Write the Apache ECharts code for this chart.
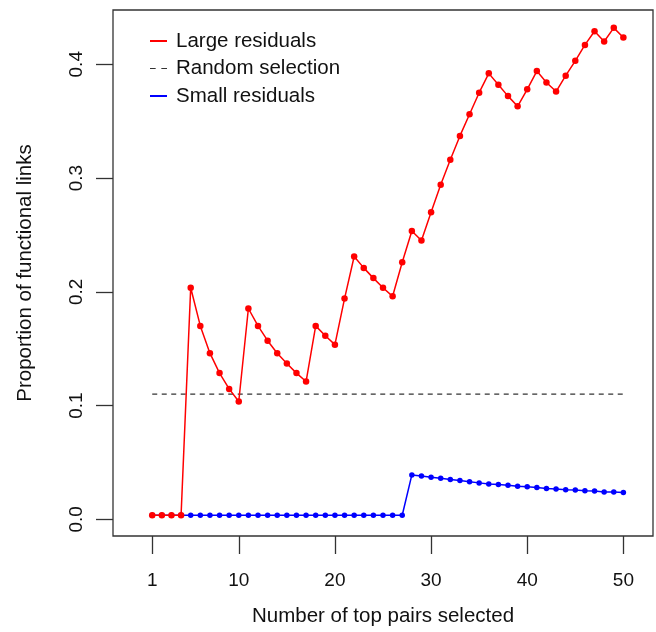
<!DOCTYPE html>
<html>
<head>
<meta charset="utf-8">
<script src="https://cdn.jsdelivr.net/npm/echarts@6/dist/echarts.min.js"></script>
<style>html,body{margin:0;padding:0;background:#fff;}#c{width:656px;height:632px;}</style>
</head>
<body>
<div id="c"></div>
<script>
var pairsSelected = [1,2,3,4,5,6,7,8,9,10,11,12,13,14,15,16,17,18,19,20,21,22,23,24,25,26,27,28,29,30,31,32,33,34,35,36,37,38,39,40,41,42,43,44,45,46,47,48,49,50];
var largeResiduals = [0.0035,0.0035,0.0035,0.0035,0.2035,0.170,0.146,0.1285,0.1146,0.1035,
  0.1853,0.170,0.157,0.146,0.137,0.1285,0.1211,0.170,0.1614,0.1535,
  0.194,0.231,0.221,0.212,0.2035,0.196,0.226,0.2535,0.245,0.270,
  0.294,0.316,0.337,0.356,0.375,0.392,0.382,0.372,0.363,0.378,
  0.394,0.384,0.376,0.390,0.403,0.417,0.429,0.420,0.432,0.4235];
var smallResiduals = [0.0035,0.0035,0.0035,0.0035,0.0035,0.0035,0.0035,0.0035,0.0035,0.0035,
  0.0035,0.0035,0.0035,0.0035,0.0035,0.0035,0.0035,0.0035,0.0035,0.0035,
  0.0035,0.0035,0.0035,0.0035,0.0035,0.0035,0.0035,0.039,0.038,0.037,
  0.036,0.035,0.034,0.033,0.032,0.031,0.0305,0.030,0.029,0.0285,
  0.028,0.027,0.0267,0.026,0.0257,0.025,0.0248,0.024,0.0239,0.0235];
var randomSelection = [0.110, 0.110];
var randomX = [1, 50];
var xTicks = [1,10,20,30,40,50];
var yTicks = [0,0.1,0.2,0.3,0.4];
var yTickLabels = ['0.0','0.1','0.2','0.3','0.4'];
var seriesNames = ['Large residuals','Random selection','Small residuals'];

function zip(xs, ys){ return xs.map(function(x,i){ return [x, ys[i]]; }); }

var FONT = 'Liberation Sans, Arial, sans-serif';
var chart = echarts.init(document.getElementById('c'), null, {renderer:'canvas'});
chart.setOption({
  animation: false,
  backgroundColor: '#fff',
  textStyle: {fontFamily: FONT},
  grid: {left: 113, right: 3, top: 10, bottom: 96, show: true, borderColor: '#333', borderWidth: 1.3, backgroundColor: 'transparent'},
  legend: {
    orient: 'vertical', left: 145, top: 25.5, itemWidth: 17, itemHeight: 2, itemGap: 6.5,
    textStyle: {fontSize: 20.5, fontFamily: FONT, color: '#111', lineHeight: 20.5, padding: [0,0,0,4]},
    data: [
      {name: seriesNames[0], icon: 'rect'},
      {name: seriesNames[1], icon: 'path://M0,0h5v1h-5zM10,0h5v1h-5z'},
      {name: seriesNames[2], icon: 'rect'}
    ]
  },
  xAxis: {
    type: 'value', min: -3.08, max: 53.08,
    name: 'Number of top pairs selected', nameLocation: 'middle', nameGap: 70,
    nameTextStyle: {fontSize: 20.5, color: '#111', fontFamily: FONT},
    splitLine: {show: false},
    axisLine: {show: false, onZero: false},
    axisTick: {show: true, inside: false, customValues: xTicks, length: 18, lineStyle: {color: '#333', width: 1.3}},
    axisLabel: {customValues: xTicks, margin: 35, fontSize: 19, color: '#111', fontFamily: FONT}
  },
  yAxis: {
    type: 'value', min: -0.0147, max: 0.4477,
    name: 'Proportion of functional links', nameLocation: 'middle', nameGap: 77,
    nameTextStyle: {fontSize: 20.5, color: '#111', fontFamily: FONT},
    splitLine: {show: false},
    axisLine: {show: false, onZero: false},
    axisTick: {show: true, inside: false, customValues: yTicks, length: 17, lineStyle: {color: '#333', width: 1.3}},
    axisLabel: {customValues: yTicks, rotate: 90, margin: 27, fontSize: 19, color: '#111', fontFamily: FONT,
      formatter: function(v){ var i = yTicks.indexOf(v); return i >= 0 ? yTickLabels[i] : ''; }}
  },
  series: [
    {name: seriesNames[1], type: 'line', data: zip(randomX, randomSelection), symbol: 'none',
      color: '#333', lineStyle: {color: '#333', width: 1.3, type: [5,4.5]}, z: 2},
    {name: seriesNames[2], type: 'line', data: zip(pairsSelected, smallResiduals), symbol: 'circle', symbolSize: 5.5,
      color: '#0000ff', itemStyle: {color: '#0000ff'}, lineStyle: {color: '#0000ff', width: 1.5}, z: 3},
    {name: seriesNames[0], type: 'line', data: zip(pairsSelected, largeResiduals), symbol: 'circle', symbolSize: 6.5,
      color: '#ff0000', itemStyle: {color: '#ff0000'}, lineStyle: {color: '#ff0000', width: 1.5}, z: 4}
  ]
});
</script>
</body>
</html>
